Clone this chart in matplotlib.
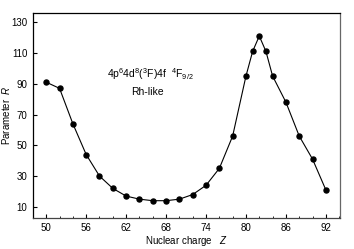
import matplotlib
matplotlib.use("Agg")
from matplotlib import pyplot
from matplotlib.ticker import MultipleLocator

# data
Z = [50, 52, 54, 56, 58, 60, 62, 64, 66, 68, 70, 72, 74, 76, 78,
     80, 81, 82, 83, 84, 86, 88, 90, 92]
R = [91, 87, 64, 44, 30, 22, 17, 15, 14, 14, 15, 18, 24, 35, 56,
     95, 111, 121, 111, 95, 78, 56, 41, 21]

x_ticks = [50, 56, 62, 68, 74, 80, 86, 92]
y_ticks = [10, 30, 50, 70, 90, 110, 130]

pyplot.rcParams['font.family'] = ['Liberation Sans', 'DejaVu Sans']
pyplot.rcParams['font.size'] = 7
pyplot.rcParams['mathtext.fontset'] = 'custom'
pyplot.rcParams['mathtext.it'] = 'Liberation Sans:italic'
pyplot.rcParams['mathtext.rm'] = 'Liberation Sans'

fig = pyplot.figure(figsize=(3.54, 2.49), dpi=100, facecolor='w')
ax = fig.add_axes([0.093, 0.126, 0.867, 0.822])

ax.plot(Z, R, color='black', linewidth=0.8, marker='o', markersize=3.6)

ax.set_xlim(48, 94.1)
ax.set_ylim(3, 136)
ax.set_xticks(x_ticks)
ax.set_yticks(y_ticks)
ax.xaxis.set_minor_locator(MultipleLocator(2))
ax.tick_params(axis='both', which='major', direction='in', length=3, width=0.8,
               labelsize=7, pad=4)
ax.tick_params(axis='x', which='minor', direction='in', length=1.5, width=0.6)
ax.tick_params(top=False, right=False, which='both')

for s in ax.spines.values():
    s.set_linewidth(0.9)
ax.spines['bottom'].set_color('#444444')
ax.spines['right'].set_color('#666666')

ax.set_xlabel("Nuclear charge   $\\it{Z}$", fontsize=7)
ax.set_ylabel("Parameter  $\\it{R}$", fontsize=7)
ax.xaxis.set_label_coords(0.5, -0.08)
ax.yaxis.set_label_coords(-0.068, 0.5)

ax.text(65.7, 96, r"4p$^6$4d$^8$($^3$F)4f  $^4$F$_{9/2}$", ha='center', va='center',
        fontsize=7.5)
ax.text(65.2, 84.5, "Rh-like", ha='center', va='center', fontsize=7.5)

pyplot.savefig("out.png", dpi=100)
